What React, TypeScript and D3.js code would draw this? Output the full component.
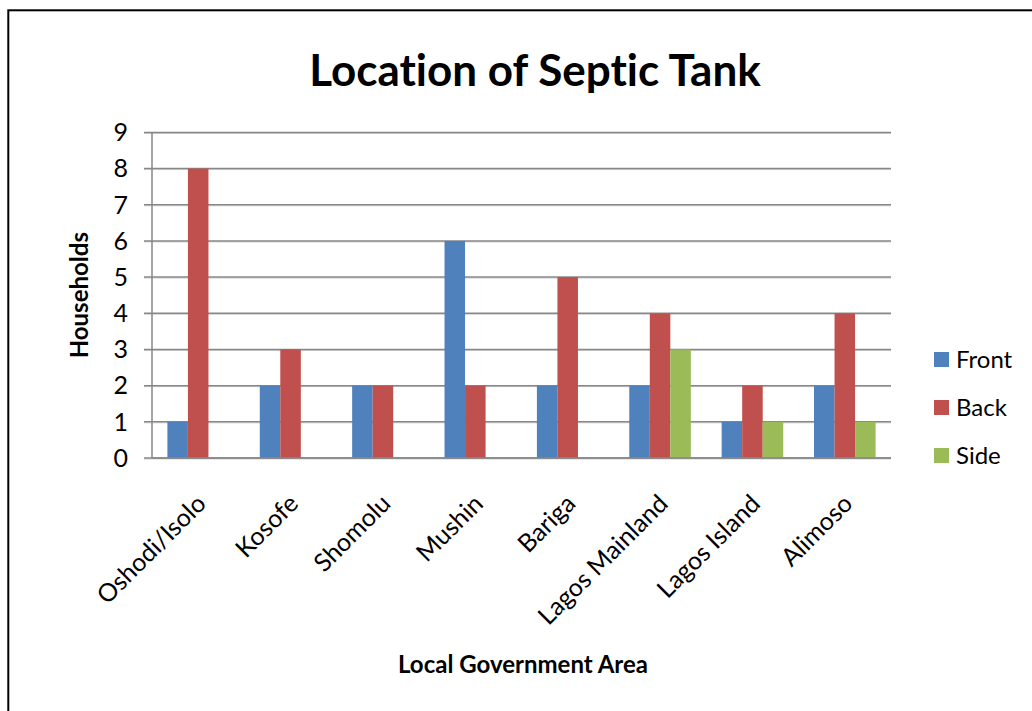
import React from "react";
import * as d3 from "d3";

const categories = ["Oshodi/Isolo", "Kosofe", "Shomolu", "Mushin", "Bariga", "Lagos Mainland", "Lagos Island", "Alimoso"];
const seriesNames = ["Front", "Back", "Side"];
const frontValues = [1, 2, 2, 6, 2, 2, 1, 2];
const backValues = [8, 3, 2, 2, 5, 4, 2, 4];
const sideValues = [0, 0, 0, 0, 0, 3, 1, 1];
const yTicks = [0, 1, 2, 3, 4, 5, 6, 7, 8, 9];
const colors = ["#4F81BD", "#C0504D", "#9BBB59"];

const FONT = "Lato, 'Open Sans', sans-serif";

export default function App() {
  const W = 1032, H = 711;
  const left = 152, right = 891, top = 132.4, bottom = 458;
  const seriesValues = [frontValues, backValues, sideValues];

  const x = d3.scaleBand<string>().domain(categories).range([left, right]).padding(0);
  const xs = d3.scaleBand<string>().domain(seriesNames).range([0, x.bandwidth()]).paddingInner(0).paddingOuter(0.75);
  const y = d3.scaleLinear().domain([0, 9]).range([bottom, top]);

  return (
    <svg width={W} height={H} style={{ position: "absolute", left: 0, top: 0, background: "#fff" }} fontFamily={FONT}>
      <rect x={0} y={0} width={W} height={H} fill="#fff" />
      <rect x={8.3} y={10.3} width={1200} height={1000} fill="none" stroke="#000" strokeWidth={2} />
      <text x={535} y={86} textAnchor="middle" fontSize={44} fontWeight={700} fill="#000" style={{ fontVariantLigatures: "none" }}>Location of Septic Tank</text>

      {/* gridlines */}
      {yTicks.map((t) => (
        <g key={t}>
          <line x1={left - 8} x2={right} y1={y(t) + 1} y2={y(t) + 1} stroke="#d0d0d0" strokeWidth={1} />
          <line x1={left - 8} x2={right} y1={y(t)} y2={y(t)} stroke="#878787" strokeWidth={1.5} />
          <text x={128} y={y(t)} dy="0.35em" textAnchor="end" fontSize={25} fill="#000">{t}</text>
        </g>
      ))}
      <line x1={left} x2={left} y1={top} y2={bottom} stroke="#878787" strokeWidth={1.5} />

      {/* bars */}
      {seriesNames.map((s, si) => (
        <g key={s}>
          {categories.map((c, ci) => {
            const v = seriesValues[si][ci];
            if (!v) return null;
            return (
              <rect key={c} x={(x(c) as number) + (xs(s) as number)} y={y(v)} width={xs.bandwidth()} height={y(0) - y(v)} fill={colors[si]} />
            );
          })}
        </g>
      ))}
      <line x1={left} x2={right} y1={bottom} y2={bottom} stroke="#878787" strokeWidth={1.5} />

      {/* x labels */}
      {categories.map((c) => {
        const cx = (x(c) as number) + x.bandwidth() / 2;
        return (
          <text key={c} transform={`translate(${cx - 4},${492}) rotate(-45)`} textAnchor="end" dy="0.75em" fontSize={25} fill="#000">{c}</text>
        );
      })}

      <text transform={`translate(88,${(top + bottom) / 2}) rotate(-90)`} textAnchor="middle" fontSize={24} fontWeight={700} fill="#000">Households</text>
      <text x={523} y={673} textAnchor="middle" fontSize={24} fontWeight={700} fill="#000">Local Government Area</text>

      {/* legend */}
      {seriesNames.map((s, i) => (
        <g key={s} transform={`translate(934,${352 + i * 48})`}>
          <rect x={0} y={0} width={15} height={15} fill={colors[i]} />
          <text x={22} y={7.5} dy="0.36em" fontSize={24} fill="#000">{s}</text>
        </g>
      ))}
    </svg>
  );
}
